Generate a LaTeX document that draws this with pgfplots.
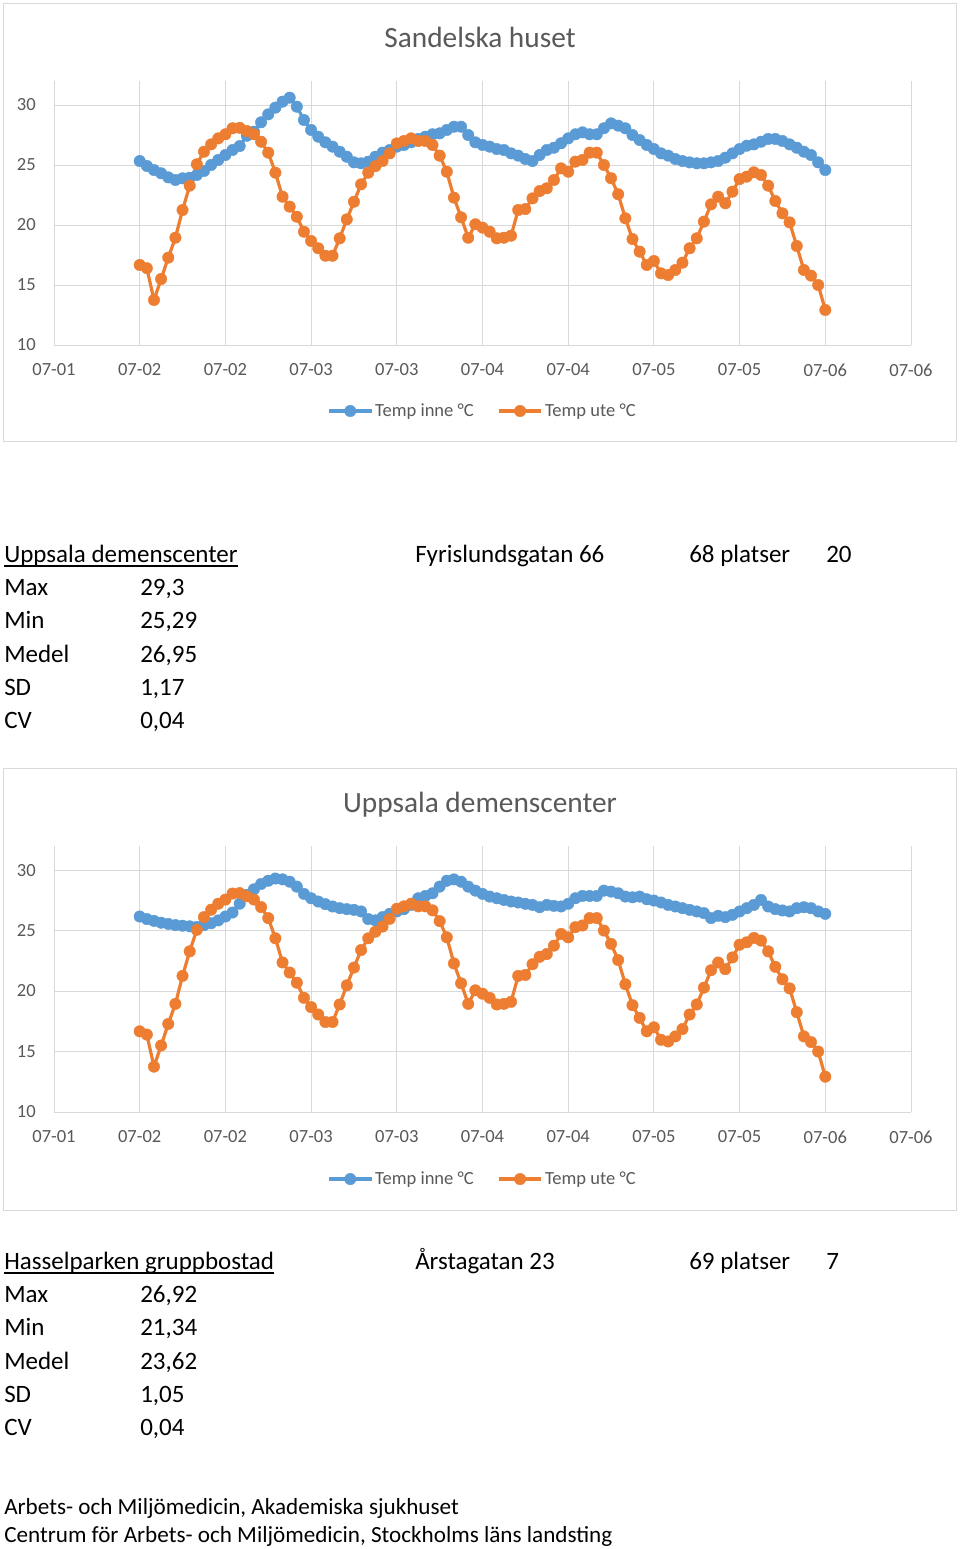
\documentclass[border=0pt]{standalone}
\usepackage{pgfplots}
\pgfplotsset{compat=1.18}
\usepackage{pgfplotstable}
\usepackage{fontspec}
\setmainfont{Carlito}
\definecolor{cblue}{HTML}{5B9BD5}
\definecolor{corange}{HTML}{ED7D31}
\definecolor{cgrid}{HTML}{D9D9D9}
\definecolor{ctext}{HTML}{595959}

\pgfplotstableread{
h ute inne1 inne2
0 16.67 25.33 26.16
1 16.40 24.92 25.95
2 13.75 24.58 25.80
3 15.50 24.31 25.65
4 17.28 23.97 25.55
5 18.94 23.75 25.45
6 21.25 23.89 25.40
7 23.28 23.94 25.35
8 25.06 24.17 25.30
9 26.11 24.50 25.45
10 26.72 25.00 25.60
11 27.22 25.42 25.84
12 27.56 25.83 26.16
13 28.06 26.25 26.49
14 28.10 26.58 27.22
15 27.83 27.44 27.95
16 27.56 27.78 28.41
17 26.94 28.56 28.85
18 26.03 29.22 29.12
19 24.36 29.78 29.30
20 22.36 30.28 29.23
21 21.53 30.61 29.04
22 20.69 29.86 28.63
23 19.44 28.75 28.03
24 18.67 27.92 27.67
25 18.06 27.36 27.40
26 17.44 26.89 27.18
27 17.44 26.53 26.99
28 18.89 26.11 26.85
29 20.47 25.69 26.77
30 21.94 25.22 26.71
31 23.39 25.14 26.58
32 24.36 25.28 25.95
33 24.90 25.69 25.84
34 25.33 26.03 26.11
35 25.97 26.25 26.38
36 26.80 26.53 26.58
37 27.00 26.67 26.77
38 27.22 26.89 27.12
39 27.00 27.17 27.67
40 27.00 27.36 27.86
41 26.67 27.56 28.08
42 25.78 27.64 28.63
43 24.44 27.92 29.12
44 22.28 28.19 29.23
45 20.64 28.19 29.04
46 18.94 27.50 28.63
47 20.06 26.89 28.30
48 19.78 26.67 28.03
49 19.44 26.53 27.81
50 18.89 26.33 27.67
51 18.94 26.25 27.53
52 19.11 25.97 27.40
53 21.25 25.78 27.32
54 21.33 25.50 27.21
55 22.22 25.33 27.12
56 22.83 25.83 26.93
57 23.06 26.25 27.12
58 23.75 26.44 27.04
59 24.72 26.81 26.99
60 24.44 27.22 27.21
61 25.28 27.56 27.67
62 25.42 27.72 27.86
63 26.03 27.56 27.86
64 26.03 27.56 27.86
65 25.00 28.06 28.30
66 23.90 28.47 28.22
67 22.56 28.28 28.08
68 20.56 28.06 27.81
69 18.83 27.50 27.75
70 17.78 27.08 27.81
71 16.67 26.67 27.59
72 17.00 26.33 27.48
73 15.97 25.97 27.32
74 15.83 25.78 27.12
75 16.25 25.50 26.99
76 16.86 25.33 26.85
77 18.06 25.22 26.71
78 18.89 25.14 26.58
79 20.28 25.14 26.44
80 21.72 25.22 26.03
81 22.36 25.33 26.22
82 21.81 25.61 26.11
83 22.78 25.97 26.30
84 23.83 26.33 26.58
85 24.03 26.61 26.85
86 24.39 26.72 27.12
87 24.17 26.94 27.53
88 23.28 27.17 26.99
89 22.00 27.17 26.77
90 20.97 27.00 26.66
91 20.22 26.72 26.58
92 18.25 26.44 26.85
93 16.25 26.11 26.93
94 15.78 25.83 26.85
95 15.00 25.22 26.58
96 12.92 24.58 26.38
}\data

\newcommand\smallfont{\fontsize{13.9}{16}\selectfont}
\newcommand\bodyfont{\fontsize{18.75}{22}\selectfont}
\newcommand\footfont{\fontsize{17.35}{20}\selectfont}

\pgfplotsset{
 tempaxis/.style={
  scale only axis, width=642.75pt,
  xmin=-12, xmax=108, ymin=10, ymax=32,
  xtick={-12,0,12,24,36,48,60,72,84,96,108},
  xticklabels={07-01,07-02,07-02,07-03,07-03,07-04,07-04,07-05,07-05,07-06,07-06},
  ytick={10,15,20,25,30},
  grid=major, grid style={cgrid, line width=0.75pt},
  axis line style={draw=none},
  major tick length=0pt,
  tick label style={font=\smallfont, text=ctext},
  yticklabel style={anchor=east, inner sep=0pt, xshift=-13.5pt},
  xticklabel style={anchor=north, inner sep=0pt, yshift=-14pt},
  /pgf/number format/assume math mode=true,
  legend columns=2,
  legend style={draw=none, fill=none, font=\smallfont, text=ctext, anchor=center,
    /tikz/every even column/.append style={column sep=16pt}, nodes={inner sep=1.5pt}},
  legend image code/.code={\draw[##1, mark repeat=2, mark phase=2] plot coordinates {(0pt,0pt)(16pt,0pt)(32pt,0pt)};},
  clip=false,
 },
 tline/.style={color=#1, line width=2.4pt, mark=*, mark size=4.3pt, mark options={solid, line width=0.3pt, fill=#1}},
}

\begin{document}
\begin{tikzpicture}
\begin{scope}[x=0.75pt,y=-0.75pt]
\useasboundingbox (0,0) rectangle (960,1549);
\fill[white] (0,0) rectangle (960,1549);
\draw[cgrid, line width=0.75pt] (3.5,3.5) rectangle (956.5,441.5);
\draw[cgrid, line width=0.75pt] (3.5,768.5) rectangle (956.5,1210.5);
\node[anchor=base, inner sep=0pt, text=ctext, font=\fontsize{22}{26}\selectfont] at (480,47.5) {Sandelska huset};
\node[anchor=base, inner sep=0pt, text=ctext, font=\fontsize{22}{26}\selectfont] at (480,812.5) {Uppsala demenscenter};

% block 1
\begin{scope}[every node/.style={anchor=base west, inner sep=0pt, font=\bodyfont}]
\node (u1) at (4,562) {Uppsala demenscenter};
\node at (415,562) {Fyrislundsgatan 66};
\node at (689,562) {68 platser};
\node at (826,562) {20};
\node at (4,595) {Max};   \node at (140,595) {29,3};
\node at (4,628) {Min};   \node at (140,628) {25,29};
\node at (4,662) {Medel}; \node at (140,662) {26,95};
\node at (4,695) {SD};    \node at (140,695) {1,17};
\node at (4,728) {CV};    \node at (140,728) {0,04};
% block 2
\node (u2) at (4,1269) {Hasselparken gruppbostad};
\node at (415,1269) {Årstagatan 23};
\node at (689,1269) {69 platser};
\node at (826,1269) {7};
\node at (4,1302) {Max};   \node at (140,1302) {26,92};
\node at (4,1335) {Min};   \node at (140,1335) {21,34};
\node at (4,1369) {Medel}; \node at (140,1369) {23,62};
\node at (4,1402) {SD};    \node at (140,1402) {1,05};
\node at (4,1435) {CV};    \node at (140,1435) {0,04};
% footer
\node[font=\footfont] at (4,1514) {Arbets- och Miljömedicin, Akademiska sjukhuset};
\node[font=\footfont] at (4,1542) {Centrum för Arbets- och Miljömedicin, Stockholms läns landsting};
\end{scope}
\draw[line width=1.1pt] ([yshift=-3pt]u1.base west) -- ([yshift=-3pt]u1.base east);
\draw[line width=1.1pt] ([yshift=-3pt]u2.base west) -- ([yshift=-3pt]u2.base east);
\end{scope}

\begin{axis}[tempaxis, at={(40.5pt,-258.75pt)}, anchor=south west, height=198pt,
  legend style={at={(0.5,-0.25)}}]
\addplot[tline=cblue] table[x=h,y=inne1]{\data};
\addlegendentry{Temp inne °C}
\addplot[tline=corange] table[x=h,y=ute]{\data};
\addlegendentry{Temp ute °C}
\end{axis}

\begin{axis}[tempaxis, at={(40.5pt,-834pt)}, anchor=south west, height=199.6pt,
  legend style={at={(0.5,-0.252)}}]
\addplot[tline=cblue] table[x=h,y=inne2]{\data};
\addlegendentry{Temp inne °C}
\addplot[tline=corange] table[x=h,y=ute]{\data};
\addlegendentry{Temp ute °C}
\end{axis}
\end{tikzpicture}
\end{document}
